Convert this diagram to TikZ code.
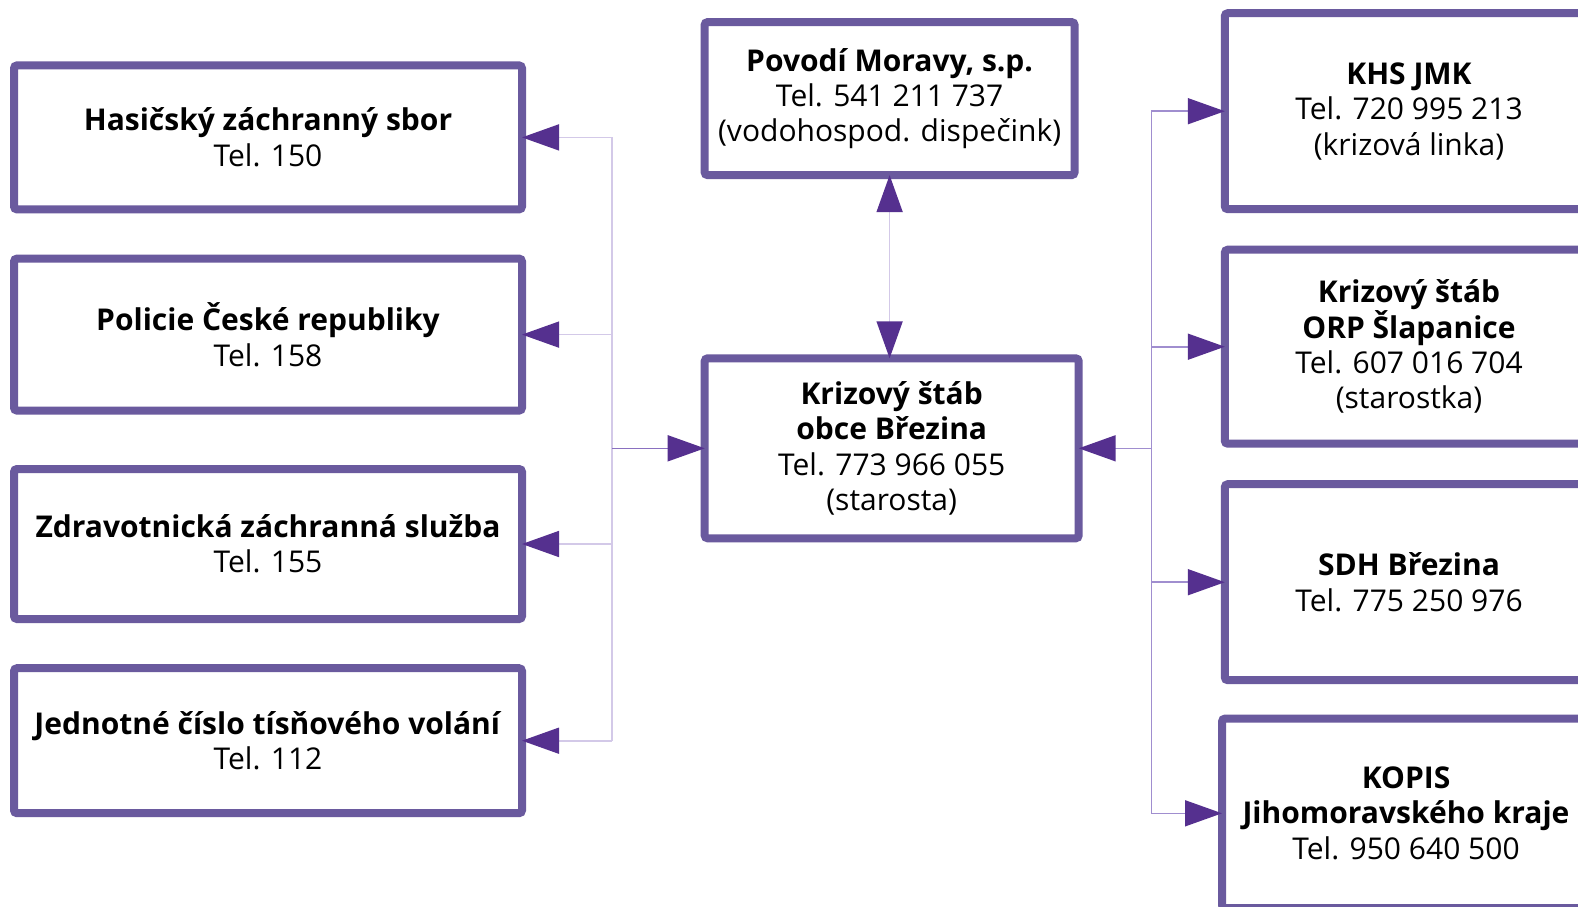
\documentclass[tikz,border=0pt]{standalone}
\usepackage{fontspec}
\setmainfont{Open Sans}
\usetikzlibrary{arrows.meta}
\definecolor{boxc}{HTML}{6A5A9E}
\definecolor{tipc}{HTML}{55308F}
\definecolor{lnlight}{HTML}{D3C9E8}
\definecolor{lnmid}{HTML}{A08ECF}
\definecolor{lndark}{HTML}{8A70C0}
\tikzset{
  ptip/.tip={Triangle[length=18.5pt,width=13pt,color=tipc]},
}
\begin{document}
\begin{tikzpicture}[x=0.5pt,y=-0.5pt,
  box/.style={draw=boxc,line width=4pt,rounded corners=1.5pt,fill=white,align=center,
    inner sep=0pt,outer sep=0pt,font=\fontsize{15}{17.7}\selectfont},
  conn/.style={line width=0.8pt,-ptip}]
\clip (0,0) rectangle (1578,906);
\fill[white] (0,0) rectangle (1578,906);
% left column
\node[box,minimum width=254pt,minimum height=72pt] (hzs) at (268,137.4) {\textbf{Hasičský záchranný sbor}\\Tel. 150};
\node[box,minimum width=254pt,minimum height=76pt] (pcr) at (268,334.6) {\textbf{Policie České republiky}\\Tel. 158};
\node[box,minimum width=254pt,minimum height=75pt] (zzs) at (268,544) {\textbf{Zdravotnická záchranná služba}\\Tel. 155};
\node[box,minimum width=254pt,minimum height=72.5pt] (tcv) at (268,740.7) {\textbf{Jednotné číslo tísňového volání}\\Tel. 112};
% centre
\node[box,minimum width=185pt,minimum height=76.5pt] (pov) at (889.6,98.6) {\textbf{Povodí Moravy, s.p.}\\Tel. 541 211 737\\(vodohospod. dispečink)};
\node[box,minimum width=187pt,minimum height=90pt] (ks) at (891.7,448.3) {\textbf{Krizový štáb}\\\textbf{obce Březina}\\Tel. 773 966 055\\(starosta)};
% right column
\node[box,minimum width=184.2pt,minimum height=98pt] (khs) at (1409,111.2) {\textbf{KHS JMK}\\Tel. 720 995 213\\(krizová linka)};
\node[box,minimum width=184.2pt,minimum height=97pt] (orp) at (1409,346.7) {\textbf{Krizový štáb}\\\textbf{ORP Šlapanice}\\Tel. 607 016 704\\(starostka)};
\node[box,minimum width=184.2pt,minimum height=98pt] (sdh) at (1409,582.2) {\textbf{SDH Březina}\\Tel. 775 250 976};
\node[box,minimum width=184pt,minimum height=94.7pt] (kop) at (1406,813.3) {\textbf{KOPIS}\\\textbf{Jihomoravského kraje}\\Tel. 950 640 500};
% buses
\coordinate (lb) at (612,448.3);
\coordinate (rb) at (1151.3,448.3);
\draw[line width=0.8pt,draw=lnlight] (lb |- hzs.east) -- (lb |- tcv.east);
\draw[line width=0.8pt,draw=lnmid] (rb |- khs.west) -- (rb |- kop.west);
\draw[conn,draw=lnlight] (lb |- hzs.east) -- (hzs.east);
\draw[conn,draw=lnlight] (lb |- pcr.east) -- (pcr.east);
\draw[conn,draw=lnlight] (lb |- zzs.east) -- (zzs.east);
\draw[conn,draw=lnlight] (lb |- tcv.east) -- (tcv.east);
\draw[conn,draw=lndark] (lb) -- (ks.west);
\draw[conn,draw=lnmid] (rb) -- (ks.east);
\draw[conn,draw=lnmid] (rb |- khs.west) -- (khs.west);
\draw[conn,draw=lnmid] (rb |- orp.west) -- (orp.west);
\draw[conn,draw=lnmid] (rb |- sdh.west) -- (sdh.west);
\draw[conn,draw=lnmid] (rb |- kop.west) -- (kop.west);
\draw[line width=0.8pt,draw=lnlight,ptip-ptip] (pov.south) -- (pov.south |- ks.north);
\end{tikzpicture}
\end{document}
